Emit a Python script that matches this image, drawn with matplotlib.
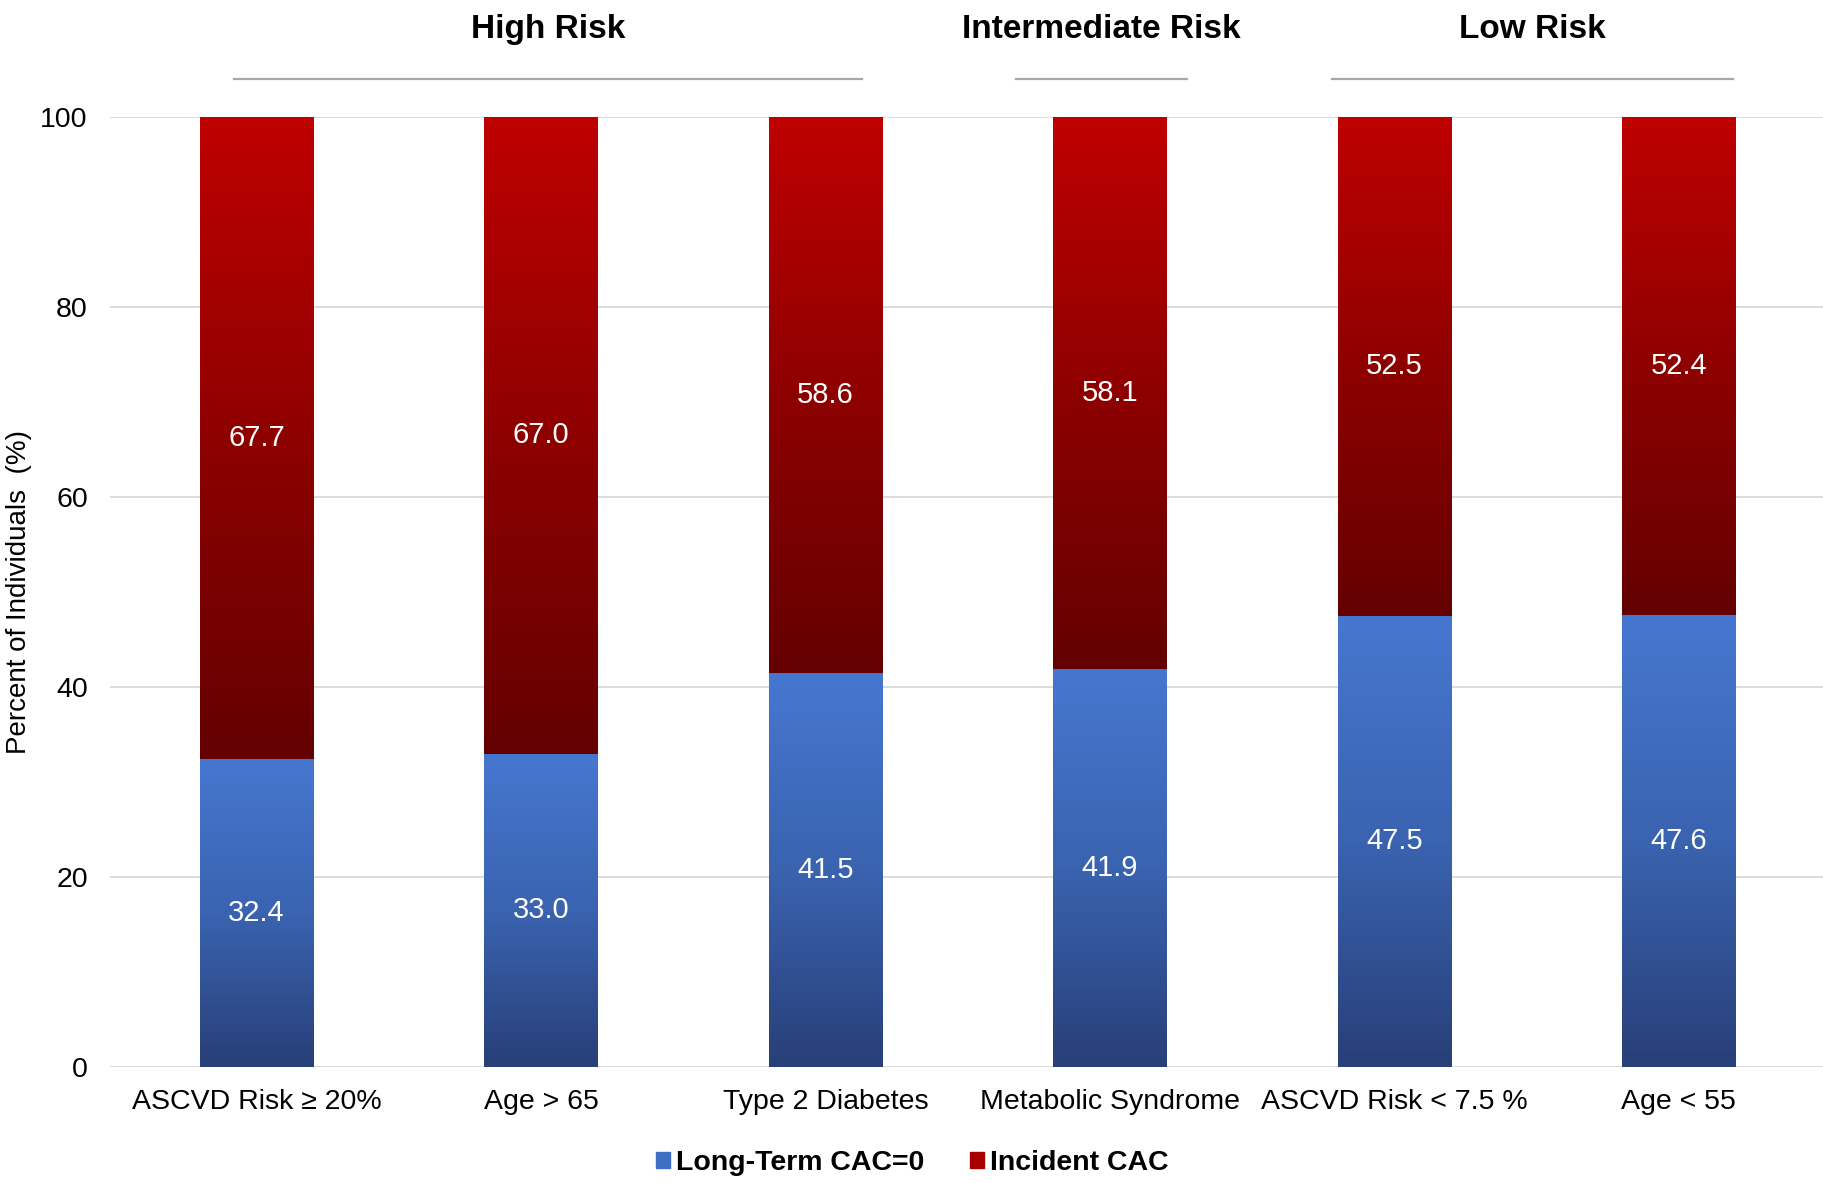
import numpy as np
import matplotlib
matplotlib.use("Agg")
import matplotlib.pyplot as plt
from matplotlib.patches import Patch
from matplotlib.colors import LinearSegmentedColormap

# data
categories = ["ASCVD Risk \u2265 20%", "Age > 65", "Type 2 Diabetes",
              "Metabolic Syndrome", "ASCVD Risk < 7.5 %", "Age < 55"]
long_term_cac0 = [32.4, 33.0, 41.5, 41.9, 47.5, 47.6]
incident_cac = [67.7, 67.0, 58.6, 58.1, 52.5, 52.4]
groups = ["High Risk", "Intermediate Risk", "Low Risk"]
group_spans = [(-0.08, 2.13), (2.67, 3.27), (3.78, 5.19)]

plt.rcParams['font.family'] = ['Liberation Sans', 'DejaVu Sans']

fig = plt.figure(figsize=(18.24, 11.83), dpi=100)
ax = fig.add_axes([0.0603, 0.098, 0.9397, 0.803])

x = np.arange(len(categories))
w = 0.40
bars_blue = ax.bar(x, long_term_cac0, w, color="#3f6fc4", zorder=2)
bars_red = ax.bar(x, incident_cac, w, bottom=long_term_cac0, color="#a80000", zorder=2)

# vertical gradient fill on every bar
blue_cm = LinearSegmentedColormap.from_list("b", ["#283f78", "#3a63b0", "#4677d0"])
red_cm = LinearSegmentedColormap.from_list("r", ["#640000", "#8e0000", "#bf0000"])
grad = np.linspace(0, 1, 256).reshape(-1, 1)
for bars, cm in [(bars_blue, blue_cm), (bars_red, red_cm)]:
    for b in bars:
        x0, y0 = b.get_x(), b.get_y()
        bw, bh = b.get_width(), b.get_height()
        ax.imshow(grad, cmap=cm, aspect="auto", origin="lower",
                  extent=(x0, x0 + bw, y0, y0 + bh), zorder=3)
        b.set_visible(False)

# value labels
for i in range(len(categories)):
    ax.text(x[i], long_term_cac0[i] / 2, f"{long_term_cac0[i]:.1f}", ha="center",
            va="center", color="white", fontsize=21, zorder=4)
    ax.text(x[i], long_term_cac0[i] + incident_cac[i] / 2, f"{incident_cac[i]:.1f}",
            ha="center", va="center", color="white", fontsize=21, zorder=4)

# group headers
for g, (a, b) in zip(groups, group_spans):
    ax.plot([a, b], [104, 104], color="#a6a6a6", lw=1.6, clip_on=False)
    ax.text((a + b) / 2, 109.2, g, ha="center", va="center", fontsize=24,
            fontweight="bold", clip_on=False)

ax.set_xlim(-0.515, 5.51)
ax.set_ylim(0, 100)
ax.set_yticks(range(0, 101, 20))
ax.set_xticks(x)
ax.set_xticklabels(categories, fontsize=20.5)
ax.tick_params(axis="y", length=0, labelsize=20.5, pad=16)
ax.tick_params(axis="x", length=0, pad=16)
ax.grid(axis="y", color="#d9d9d9", lw=1.3, zorder=0)
ax.set_axisbelow(True)
for s in ax.spines.values():
    s.set_visible(False)
ax.set_ylabel("Percent of Individuals  (%)", fontsize=20, labelpad=6)

handles = [Patch(color="#3f6fc4", label="Long-Term CAC=0"),
           Patch(color="#a80000", label="Incident CAC")]
fig.legend(handles=handles, loc="lower center", bbox_to_anchor=(0.5, -0.016), ncol=2,
           frameon=False, handlelength=0.5, handleheight=0.5, handletextpad=0.2,
           columnspacing=1.6, prop={"weight": "bold", "size": 20.5})

fig.savefig("out.png", dpi=100)
